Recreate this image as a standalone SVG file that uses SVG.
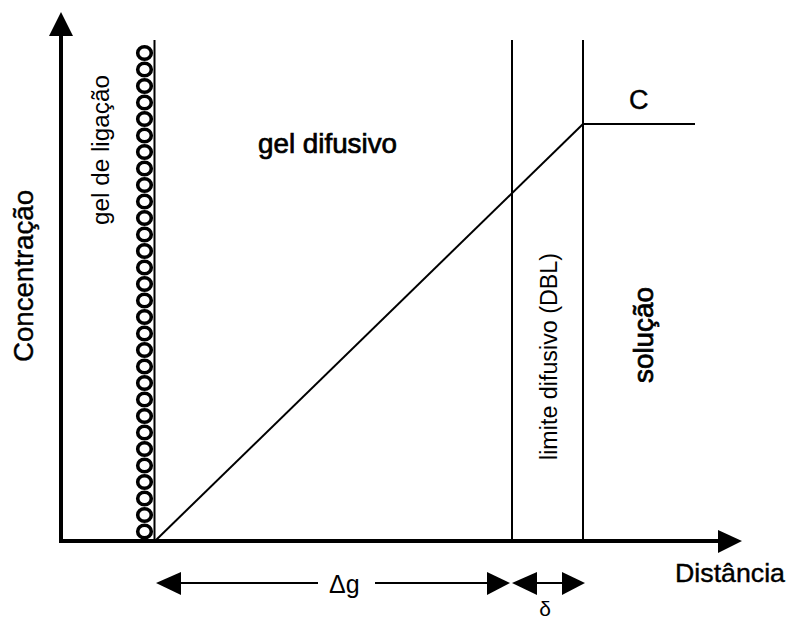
<svg xmlns="http://www.w3.org/2000/svg" width="788" height="619" viewBox="0 0 788 619">
<defs>
<style>
.ax{stroke:#000;stroke-width:4;fill:none}
.ln{stroke:#000;stroke-width:2;fill:none}
.ah{fill:#000;stroke:none}
.bead{fill:none;stroke:#000;stroke-width:3.6}
text{font-family:"Liberation Sans",Arial,sans-serif;fill:#000}
.hv{stroke:#000;stroke-width:0.4}
.md{stroke:#000;stroke-width:0.7}
</style>
<ellipse id="b" cx="144.5" cy="0" rx="6.8" ry="6.3" class="bead"/>
</defs>
<rect width="788" height="619" fill="#fff"/>
<g id="connectors">
<line class="ax" x1="61" y1="543" x2="61" y2="34"/>
<polygon class="ah" points="61,12 49,36 73,36"/>
<line class="ax" x1="59" y1="541" x2="720" y2="541"/>
<polygon class="ah" points="742,541 718,530 718,553"/>
<line class="ln" x1="155" y1="541" x2="583" y2="124"/>
<line class="ln" x1="583" y1="124" x2="695" y2="124"/>
<line class="ln" x1="180" y1="583" x2="318" y2="583"/>
<line class="ln" x1="375" y1="583" x2="489" y2="583"/>
<polygon class="ah" points="156,583 181,572 181,595"/>
<polygon class="ah" points="510,583 487,572 487,595"/>
<line class="ln" x1="536" y1="583" x2="563" y2="583"/>
<polygon class="ah" points="512,583 537,572 537,595"/>
<polygon class="ah" points="585,583 562,572 562,595"/>
</g>
<g id="gel-ligacao">
<line class="ln" x1="154.5" y1="40" x2="154.5" y2="541"/>
<use href="#b" y="53"/><use href="#b" y="69.5"/><use href="#b" y="86"/><use href="#b" y="102.5"/><use href="#b" y="119"/>
<use href="#b" y="135.5"/><use href="#b" y="152"/><use href="#b" y="168.5"/><use href="#b" y="185"/><use href="#b" y="201.5"/>
<use href="#b" y="218"/><use href="#b" y="234.5"/><use href="#b" y="251"/><use href="#b" y="267.5"/><use href="#b" y="284"/>
<use href="#b" y="300.5"/><use href="#b" y="317"/><use href="#b" y="333.5"/><use href="#b" y="350"/><use href="#b" y="366.5"/>
<use href="#b" y="383"/><use href="#b" y="399.5"/><use href="#b" y="416"/><use href="#b" y="432.5"/><use href="#b" y="449"/>
<use href="#b" y="465.5"/><use href="#b" y="482"/><use href="#b" y="498.5"/><use href="#b" y="515"/><use href="#b" y="531.5"/>
<text transform="translate(109,150) rotate(-90)" text-anchor="middle" font-size="23" textLength="150" lengthAdjust="spacingAndGlyphs">gel de ligação</text>
</g>
<g id="gel-difusivo">
<text class="md" x="258" y="153" font-size="27" textLength="139" lengthAdjust="spacingAndGlyphs">gel difusivo</text>
</g>
<g id="dbl">
<line class="ln" x1="512" y1="40" x2="512" y2="541"/>
<text transform="translate(557,356.5) rotate(-90)" text-anchor="middle" font-size="23" textLength="207" lengthAdjust="spacingAndGlyphs">limite difusivo (DBL)</text>
</g>
<g id="solucao">
<line class="ln" x1="583" y1="40" x2="583" y2="541"/>
<text class="md" transform="translate(653,335) rotate(-90)" text-anchor="middle" font-size="27" textLength="96" lengthAdjust="spacingAndGlyphs">solução</text>
<text class="hv" x="629" y="109" font-size="27">C</text>
</g>
<g id="labels">
<text class="hv" transform="translate(33,276) rotate(-90)" text-anchor="middle" font-size="27" textLength="172" lengthAdjust="spacingAndGlyphs">Concentração</text>
<text class="hv" x="675" y="582" font-size="26" textLength="110" lengthAdjust="spacingAndGlyphs">Distância</text>
<text x="329" y="593" font-size="25">Δg</text>
<text x="545" y="616" font-size="21" text-anchor="middle">δ</text>
</g>
</svg>
